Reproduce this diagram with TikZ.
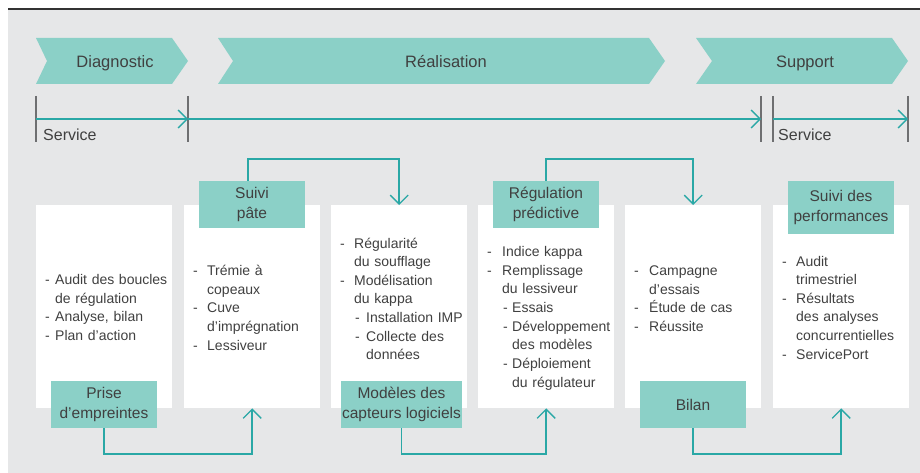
\documentclass[tikz,border=0pt]{standalone}
\usepackage{fontspec}
\setmainfont{Liberation Sans}
\usetikzlibrary{arrows.meta}

\definecolor{panelbg}{RGB}{230,231,232}
\definecolor{tealfill}{RGB}{139,208,199}
\definecolor{tealline}{RGB}{42,168,166}
\definecolor{tickgray}{RGB}{110,111,113}
\definecolor{txt}{RGB}{64,64,64}

% list helpers: a dash in a box of given width, and a matching indent
\newcommand\dl[1]{\makebox[#1pt][l]{-}}
\newcommand\ind[1]{\hspace*{#1pt}}

\tikzset{
  chev/.style={fill=tealfill},
  head/.style={anchor=base, inner sep=0pt, text=txt, font=\fontsize{16.5}{19}\selectfont},
  svc/.style={anchor=base west, inner sep=0pt, text=txt, font=\fontsize{16}{19}\selectfont},
  tickmark/.style={draw=tickgray, line width=1.3pt},
  barb/.style={-{Straight Barb[length=9pt,width=18pt,line width=1.3pt]}},
  svcline/.style={draw=tealline, line width=1.5pt, barb},
  card/.style={fill=white, inner sep=0pt, minimum width=136pt, minimum height=203pt, anchor=north west},
  tag/.style={fill=tealfill, inner sep=0pt, minimum width=106pt, minimum height=47pt,
              align=center, text=txt, font=\fontsize{15.5}{20}\selectfont},
  conn/.style={draw=tealline, line width=1.5pt, barb},
  body/.style={anchor=base west, inner sep=0pt, text width=150pt, align=left,
               text=txt, font=\fontsize{14}{18.65}\selectfont},
}

\begin{document}
\begin{tikzpicture}[x=1pt,y=-1pt]
\useasboundingbox (0,0) rectangle (920,473);

% panel
\fill[panelbg] (8,9) rectangle (920,473);
\draw[line width=1.3pt, black!80] (8,9) -- (920,9);

% phase chevrons
\fill[chev] (36,38) -- (172,38) -- (188,61) -- (172,84) -- (36,84) -- (47,61) -- cycle;
\fill[chev] (218,38) -- (649,38) -- (665,61) -- (649,84) -- (218,84) -- (233,61) -- cycle;
\fill[chev] (696,38) -- (892,38) -- (908,61) -- (892,84) -- (696,84) -- (712,61) -- cycle;
\node[head] (hdiag) at (115,67.5) {Diagnostic};
\node[head] (hreal) at (446,67.5) {Réalisation};
\node[head] (hsupp) at (805,67.5) {Support};

% service timeline
\foreach \x in {36,188,761,773,908} \draw[tickmark] (\x,96) -- (\x,142);
\coordinate (sa) at (36,119);
\coordinate (sb) at (188,119);
\coordinate (sc) at (761,119);
\coordinate (sd) at (773,119);
\coordinate (se) at (908,119);
\draw[svcline] (sa) -- (sb);
\draw[svcline] (sb) -- (sc);
\draw[svcline] (sd) -- (se);
\node[svc] (svc1) at (43,141) {Service};
\node[svc] (svc2) at (778,141) {Service};

% white cards
\node[card] (c1) at (36,205) {};
\node[card] (c2) at (184,205) {};
\node[card] (c3) at (331,205) {};
\node[card] (c4) at (478,205) {};
\node[card] (c5) at (625,205) {};
\node[card] (c6) at (773,205) {};

% tags
\node[tag] (lsp) at (252,204.5) {Suivi\\pâte};
\node[tag] (lpe) at (104,404.5) {Prise\\d’empreintes};
\node[tag, minimum width=121pt] (lmc) at (401.5,404.5) {Modèles des\\capteurs logiciels};
\node[tag] (lrp) at (546,204.5) {Régulation\\prédictive};
\node[tag] (lbi) at (693,404.5) {Bilan};
\node[tag, minimum height=53pt] (lsd) at (841,207.5) {Suivi des\\performances};

% connectors between tags and cards
\draw[conn] ([xshift=-4pt]lsp.north) -- ++(0,-22) -| (c3.north);
\draw[conn] (lrp.north) -- ++(0,-22) -| (c5.north);
\draw[conn] (lpe.south) -- ++(0,26) -| (c2.south);
\draw[conn] (lmc.south) -- ++(0,26) -| (c4.south);
\draw[conn] (lbi.south) -- ++(0,26) -| (c6.south);

% card contents
\node[body] (b1) at (45,284.5) {\dl{10}Audit des boucles\\\ind{10}de régulation\\\dl{10}Analyse, bilan\\\dl{10}Plan d’action};
\node[body] (b2) at (193,275.5) {\dl{14}Trémie à\\\ind{14}copeaux\\\dl{14}Cuve\\\ind{14}d’imprégnation\\\dl{14}Lessiveur};
\node[body] (b3) at (340,248) {\dl{14}Régularité\\\ind{14}du soufflage\\\dl{14}Modélisation\\\ind{14}du kappa\\\ind{15}\dl{11}Installation IMP\\\ind{15}\dl{11}Collecte des\\\ind{26}données};
\node[body] (b4) at (487,256.5) {\dl{15}Indice kappa\\\dl{15}Remplissage\\\ind{15}du lessiveur\\\ind{16}\dl{9}Essais\\\ind{16}\dl{9}Développement\\\ind{25}des modèles\\\ind{16}\dl{9}Déploiement\\\ind{25}du régulateur};
\node[body] (b5) at (634,275.5) {\dl{15}Campagne\\\ind{15}d’essais\\\dl{15}Étude de cas\\\dl{15}Réussite};
\node[body] (b6) at (782,266) {\dl{14}Audit\\\ind{14}trimestriel\\\dl{14}Résultats\\\ind{14}des analyses\\\ind{14}concurrentielles\\\dl{14}ServicePort};
\end{tikzpicture}
\end{document}
